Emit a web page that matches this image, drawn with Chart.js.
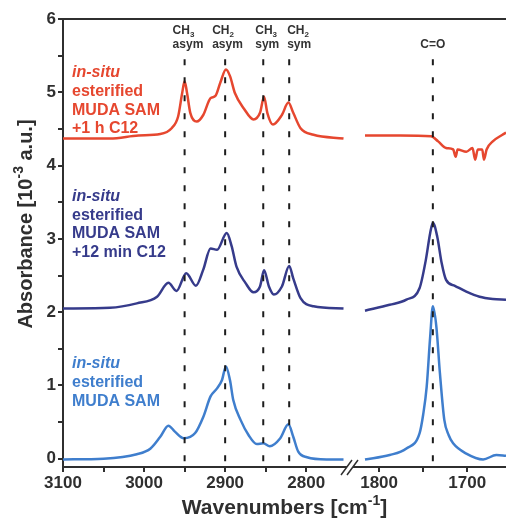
<!DOCTYPE html>
<html>
<head>
<meta charset="utf-8">
<title>IR spectra</title>
<script src="https://cdn.jsdelivr.net/npm/chart.js@4.4.1/dist/chart.umd.min.js"></script>
<style>
  html, body { margin: 0; padding: 0; background: #fff; }
  canvas { display: block; }
</style>
</head>
<body>
<canvas id="ir" width="506" height="519"></canvas>
<script>
// C-H stretch region (left panel) and C=O region (right panel); x in cm-1, y in 10^-3 a.u.
var redChWn = [3100, 3042, 3007, 2980, 2966, 2958, 2953, 2950, 2947, 2943, 2935, 2927, 2918, 2912, 2906, 2899, 2894, 2888, 2877, 2865, 2857, 2852, 2848, 2841, 2830, 2822, 2816, 2807, 2791, 2754];
var redChAbs = [4.37, 4.37, 4.41, 4.43, 4.51, 4.67, 4.99, 5.15, 4.99, 4.72, 4.60, 4.69, 4.92, 4.95, 5.13, 5.31, 5.22, 4.99, 4.78, 4.63, 4.72, 4.94, 4.72, 4.56, 4.69, 4.86, 4.72, 4.51, 4.42, 4.37];
var redCoWn = [1816, 1776, 1741, 1733, 1724, 1716, 1713, 1711, 1701, 1694, 1691, 1688, 1683, 1681, 1678, 1671, 1660, 1656];
var redCoAbs = [4.41, 4.41, 4.40, 4.33, 4.24, 4.22, 4.12, 4.22, 4.19, 4.24, 4.08, 4.22, 4.22, 4.08, 4.22, 4.33, 4.42, 4.45];

var navyChWn = [3100, 3042, 3009, 2984, 2970, 2960, 2948, 2936, 2927, 2918, 2910, 2898, 2892, 2886, 2875, 2865, 2857, 2852, 2846, 2840, 2830, 2821, 2816, 2807, 2791, 2754];
var navyChAbs = [2.05, 2.06, 2.12, 2.21, 2.40, 2.29, 2.53, 2.36, 2.58, 2.87, 2.85, 3.08, 2.90, 2.62, 2.40, 2.27, 2.35, 2.57, 2.35, 2.24, 2.35, 2.63, 2.46, 2.19, 2.08, 2.05];
var navyCoWn = [1816, 1788, 1769, 1754, 1747, 1742, 1739, 1734, 1729, 1724, 1714, 1701, 1686, 1671, 1656];
var navyCoAbs = [2.02, 2.10, 2.17, 2.33, 2.71, 3.08, 3.22, 3.03, 2.67, 2.44, 2.36, 2.28, 2.21, 2.18, 2.17];

var blueChWn = [3100, 3050, 3009, 2992, 2980, 2970, 2962, 2951, 2937, 2927, 2918, 2910, 2904, 2899, 2894, 2890, 2881, 2871, 2861, 2853, 2845, 2832, 2822, 2816, 2810, 2799, 2775, 2754];
var blueChAbs = [-0.01, 0.00, 0.06, 0.14, 0.30, 0.45, 0.37, 0.28, 0.35, 0.57, 0.85, 0.96, 1.07, 1.26, 1.07, 0.80, 0.53, 0.32, 0.20, 0.21, 0.17, 0.28, 0.47, 0.30, 0.10, 0.02, -0.01, -0.01];
var blueCoWn = [1816, 1788, 1769, 1754, 1750, 1746, 1742, 1739, 1735, 1731, 1726, 1721, 1716, 1701, 1682, 1667, 1656];
var blueCoAbs = [-0.01, 0.05, 0.14, 0.35, 0.60, 0.98, 1.67, 2.08, 1.80, 1.17, 0.53, 0.32, 0.21, 0.07, -0.01, 0.05, 0.04];

// band markers
var bandWn = [2950, 2900, 2853, 2821];
var bandName = [['CH', '3', 'asym'], ['CH', '2', 'asym'], ['CH', '3', 'sym'], ['CH', '2', 'sym']];
var carbonylWn = [1739];
var carbonylName = 'C=O';

var redLabel = ['in-situ', 'esterified', 'MUDA SAM', '+1 h C12'];
var navyLabel = ['in-situ', 'esterified', 'MUDA SAM', '+12 min C12'];
var blueLabel = ['in-situ', 'esterified', 'MUDA SAM'];

var yTicks = [0, 1, 2, 3, 4, 5, 6];
var xTicksCh = [3100, 3000, 2900, 2800];
var xTicksCo = [1800, 1700];

var RED = '#e6472f', NAVY = '#363b8b', BLUE = '#3f7ecd', AXIS = '#2f2f2f';
var FONT = '"Liberation Sans", Arial, Helvetica, sans-serif';
var Y_MIN = -0.113, Y_MAX = 6, MARK_TOP = 5.45;

function pts(wn, abs) {
  return wn.map(function (w, i) { return { x: w, y: abs[i] }; });
}

function curve(wn, abs, color, axis) {
  return {
    data: pts(wn, abs), xAxisID: axis, borderColor: color, borderWidth: 2.5,
    pointRadius: 0, fill: false, cubicInterpolationMode: 'monotone', order: 2
  };
}

function marker(w, axis) {
  return {
    data: [{ x: w, y: MARK_TOP }, { x: w, y: Y_MIN }], xAxisID: axis,
    borderColor: '#1c1c1c', borderWidth: 2, borderDash: [6, 12],
    pointRadius: 0, tension: 0, order: 1
  };
}

function font(size, italic) {
  return (italic ? 'italic ' : '') + 'bold ' + size + 'px ' + FONT;
}

// parts: [text, mode] with mode 0 normal, -1 subscript, 1 superscript
function rich(ctx, parts, x, y, size, align) {
  var small = Math.round(size * 0.68);
  var widths = parts.map(function (p) {
    ctx.font = font(p[1] ? small : size);
    return ctx.measureText(p[0]).width;
  });
  var total = widths.reduce(function (a, b) { return a + b; }, 0);
  var cx = align === 'center' ? x - total / 2 : x;
  ctx.textAlign = 'left';
  ctx.textBaseline = 'middle';
  parts.forEach(function (p, i) {
    ctx.font = font(p[1] ? small : size);
    var dy = p[1] === -1 ? size * 0.3 : (p[1] === 1 ? -size * 0.32 : 0);
    ctx.fillText(p[0], cx, y + dy);
    cx += widths[i];
  });
}

function sampleLabel(ctx, lines, color, x, y0, step) {
  ctx.fillStyle = color;
  ctx.textAlign = 'left';
  ctx.textBaseline = 'middle';
  lines.forEach(function (t, i) {
    ctx.font = font(16, i === 0);
    ctx.fillText(t, x, y0 + i * step);
  });
}

var decor = {
  id: 'decor',
  afterDraw: function (chart) {
    var ctx = chart.ctx, a = chart.chartArea;
    var sx = chart.scales.x, sx2 = chart.scales.x2;
    ctx.save();

    // top frame
    ctx.strokeStyle = AXIS;
    ctx.lineWidth = 2;
    ctx.beginPath();
    ctx.moveTo(a.left - 1, a.top);
    ctx.lineTo(a.right, a.top);
    ctx.stroke();

    // axis break //
    var bx = sx.right, by = a.bottom;
    ctx.fillStyle = '#fff';
    ctx.beginPath();
    ctx.moveTo(bx - 9, by + 8);
    ctx.lineTo(bx - 3, by + 8);
    ctx.lineTo(bx + 8, by - 7);
    ctx.lineTo(bx + 2, by - 7);
    ctx.closePath();
    ctx.fill();
    ctx.lineWidth = 1.5;
    ctx.beginPath();
    ctx.moveTo(bx - 9, by + 8); ctx.lineTo(bx + 2, by - 7);
    ctx.moveTo(bx - 3, by + 8); ctx.lineTo(bx + 8, by - 7);
    ctx.stroke();

    // band names
    ctx.fillStyle = '#333';
    var shift = [-12, -13, -8, -2];
    bandWn.forEach(function (w, i) {
      var px = sx.getPixelForValue(w) + shift[i];
      var n = bandName[i];
      rich(ctx, [[n[0], 0], [n[1], -1]], px, 31, 12, 'left');
      rich(ctx, [[n[2], 0]], px, 45, 12, 'left');
    });
    carbonylWn.forEach(function (w) {
      rich(ctx, [[carbonylName, 0]], sx2.getPixelForValue(w), 45, 12, 'center');
    });

    // sample names
    sampleLabel(ctx, redLabel, RED, 72, 73, 18.6);
    sampleLabel(ctx, navyLabel, NAVY, 72, 196.5, 18.6);
    sampleLabel(ctx, blueLabel, BLUE, 72, 363.5, 18.8);

    // axis titles
    ctx.fillStyle = AXIS;
    rich(ctx, [['Wavenumbers [cm', 0], ['-1', 1], [']', 0]], (a.left + a.right) / 2, 508, 21, 'center');
    ctx.translate(26, 224);
    ctx.rotate(-Math.PI / 2);
    rich(ctx, [['Absorbance [10', 0], ['-3', 1], [' a.u.]', 0]], 0, 0, 20, 'center');
    ctx.restore();
  }
};

function xAxis(min, max, weight, labelled) {
  return {
    type: 'linear', position: 'bottom', stack: 'wn', stackWeight: weight,
    reverse: true, min: min, max: max,
    border: { color: AXIS, width: 2 },
    grid: { drawOnChartArea: false, drawTicks: true, tickLength: 5, color: AXIS, lineWidth: 2 },
    ticks: {
      stepSize: 50, includeBounds: false, autoSkip: false, maxRotation: 0, padding: 1,
      color: AXIS, font: { size: 17, weight: 'bold', family: FONT },
      callback: function (v) { return labelled.indexOf(v) >= 0 ? String(v) : ''; }
    },
    afterBuildTicks: function (s) {
      s.ticks = s.ticks.filter(function (t) { return t.value >= min + 20 && t.value <= max; });
    },
    afterFit: function (s) { s.height = 52; }
  };
}

var datasets = [];
bandWn.forEach(function (w) { datasets.push(marker(w, 'x')); });
carbonylWn.forEach(function (w) { datasets.push(marker(w, 'x2')); });
datasets.push(curve(redChWn, redChAbs, RED, 'x'));
datasets.push(curve(redCoWn, redCoAbs, RED, 'x2'));
datasets.push(curve(navyChWn, navyChAbs, NAVY, 'x'));
datasets.push(curve(navyCoWn, navyCoAbs, NAVY, 'x2'));
datasets.push(curve(blueChWn, blueChAbs, BLUE, 'x'));
datasets.push(curve(blueCoWn, blueCoAbs, BLUE, 'x2'));

new Chart(document.getElementById('ir'), {
  type: 'line',
  data: { datasets: datasets },
  options: {
    responsive: false,
    animation: false,
    parsing: true,
    layout: { padding: { top: 19, right: 0, bottom: 0, left: 0 } },
    plugins: { legend: { display: false }, tooltip: { enabled: false } },
    scales: {
      x: xAxis(2746, 3100, 287, xTicksCh),
      x2: xAxis(1656, 1833, 156, xTicksCo),
      y: {
        min: Y_MIN, max: Y_MAX,
        border: { color: AXIS, width: 2 },
        grid: { drawOnChartArea: false, drawTicks: true, tickLength: 5, color: AXIS, lineWidth: 2 },
        ticks: {
          stepSize: 0.5, includeBounds: false, padding: 2,
          color: AXIS, font: { size: 17, weight: 'bold', family: FONT },
          callback: function (v) { return yTicks.indexOf(v) >= 0 ? String(v) : ''; }
        },
        afterFit: function (s) { s.width = 63; }
      }
    }
  },
  plugins: [decor]
});
</script>
</body>
</html>
